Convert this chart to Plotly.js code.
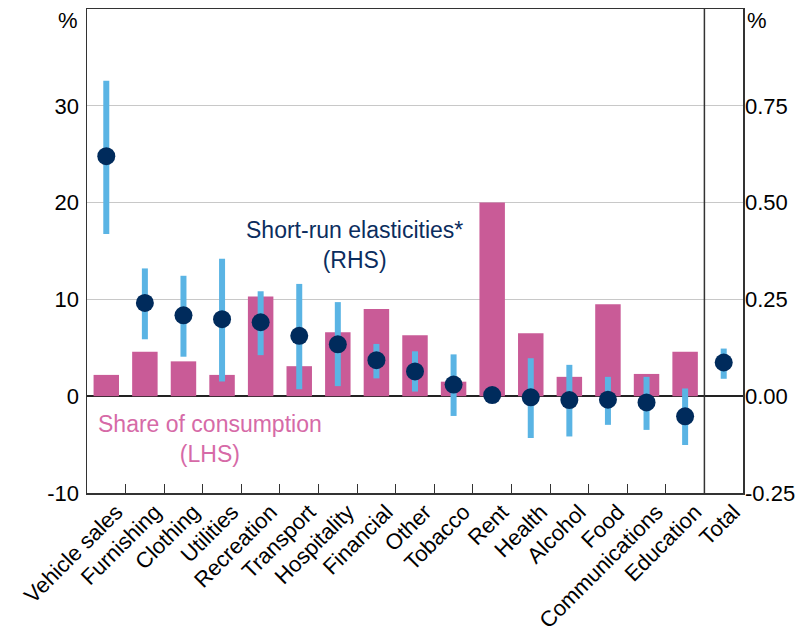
<!DOCTYPE html>
<html>
<head>
<meta charset="utf-8">
<script src="https://cdn.plot.ly/plotly-3.0.1.min.js"></script>
<style>html,body{margin:0;padding:0;background:#fff;}#chart{width:805px;height:643px;}</style>
</head>
<body>
<div id="chart"></div>
<script>
const categories = ["Vehicle sales","Furnishing","Clothing","Utilities","Recreation","Transport","Hospitality","Financial","Other","Tobacco","Rent","Health","Alcohol","Food","Communications","Education","Total"];
const shareOfConsumption = [2.2, 4.6, 3.6, 2.2, 10.3, 3.1, 6.6, 9.0, 6.3, 1.5, 20.0, 6.5, 2.0, 9.5, 2.3, 4.6, null];
const elasticity = [0.62, 0.241, 0.209, 0.199, 0.191, 0.156, 0.134, 0.093, 0.064, 0.030, 0.003, -0.003, -0.010, -0.009, -0.016, -0.052, 0.087];
const elastHigh = [0.815, 0.33, 0.311, 0.355, 0.271, 0.29, 0.243, 0.135, 0.116, 0.108, 0.003, 0.098, 0.081, 0.050, 0.050, 0.020, 0.123];
const elastLow = [0.419, 0.147, 0.102, 0.038, 0.106, 0.018, 0.026, 0.046, 0.012, -0.051, 0.003, -0.108, -0.104, -0.074, -0.087, -0.126, 0.045];
const leftTicks = [-10, 0, 10, 20, 30];
const rightTicks = [-0.25, 0, 0.25, 0.5, 0.75];

const errPlus = elasticity.map((v, i) => elastHigh[i] - v);
const errMinus = elasticity.map((v, i) => v - elastLow[i]);

const FONT = "Liberation Sans, Arial, sans-serif";

const traces = [
  {
    type: "bar", x: categories, y: shareOfConsumption, yaxis: "y",
    marker: {color: "#c95b97"}, hoverinfo: "skip", showlegend: false
  },
  {
    type: "scatter", mode: "markers", x: categories, y: elasticity, yaxis: "y2",
    marker: {color: "#002b5c", size: 18},
    error_y: {type: "data", symmetric: false, array: errPlus, arrayminus: errMinus, color: "#5ab4e4", thickness: 6, width: 0},
    showlegend: false
  }
];

const layout = {
  width: 805, height: 643,
  margin: {l: 87, r: 62, t: 9, b: 150},
  paper_bgcolor: "#fff", plot_bgcolor: "#fff",
  font: {family: FONT, size: 19, color: "#000"},
  bargap: 0.34,
  xaxis: {
    type: "category", range: [-0.5, 16.5], tickangle: -45, tickson: "boundaries", ticks: "inside", ticklen: 9,
    tickcolor: "#333", showline: true, linecolor: "#333", linewidth: 1.5, mirror: true,
    ticklabelshift: 10, ticklabelstandoff: -4,
    showgrid: false, tickfont: {family: FONT, size: 22, color: "#000"}, fixedrange: true
  },
  yaxis: {
    range: [-10, 40], tickvals: leftTicks, ticktext: leftTicks.map(String),
    showgrid: true, gridcolor: "#c8c8c8", gridwidth: 1,
    zeroline: true, zerolinecolor: "#222", zerolinewidth: 1.5,
    showline: true, linecolor: "#333", linewidth: 1.5, mirror: true,
    ticks: "", ticklabelstandoff: 2, tickfont: {family: FONT, size: 22, color: "#000"}
  },
  yaxis2: {
    overlaying: "y", side: "right", range: [-0.25, 1.0],
    tickvals: rightTicks, ticktext: rightTicks.map(v => v.toFixed(2)),
    showgrid: false, zeroline: false, showline: false, ticks: "",
    ticklabelstandoff: 1, tickfont: {family: FONT, size: 22, color: "#000"}
  },
  shapes: [
    {type: "line", xref: "x", yref: "paper", x0: 15.5, x1: 15.5, y0: 0, y1: 1, line: {color: "#333", width: 1.5}}
  ],
  annotations: [
    {xref: "paper", yref: "paper", x: -0.01, y: 0.977, xanchor: "right", yanchor: "middle", text: "%", showarrow: false, font: {family: FONT, size: 22, color: "#000"}},
    {xref: "paper", yref: "paper", x: 1.003, y: 0.977, xanchor: "left", yanchor: "middle", text: "%", showarrow: false, font: {family: FONT, size: 22, color: "#000"}},
    {xref: "x", yref: "y", x: 6.44, y: 15.6, xanchor: "center", yanchor: "middle", align: "center",
     text: "Short-run elasticities*<br>(RHS)", showarrow: false, font: {family: FONT, size: 23, color: "#0b2d5e"}},
    {xref: "x", yref: "y", x: 2.69, y: -4.4, xanchor: "center", yanchor: "middle", align: "center",
     text: "Share of consumption<br>(LHS)", showarrow: false, font: {family: FONT, size: 23, color: "#d66aa7"}}
  ]
};

Plotly.newPlot("chart", traces, layout, {staticPlot: true, displayModeBar: false});
</script>
</body>
</html>
